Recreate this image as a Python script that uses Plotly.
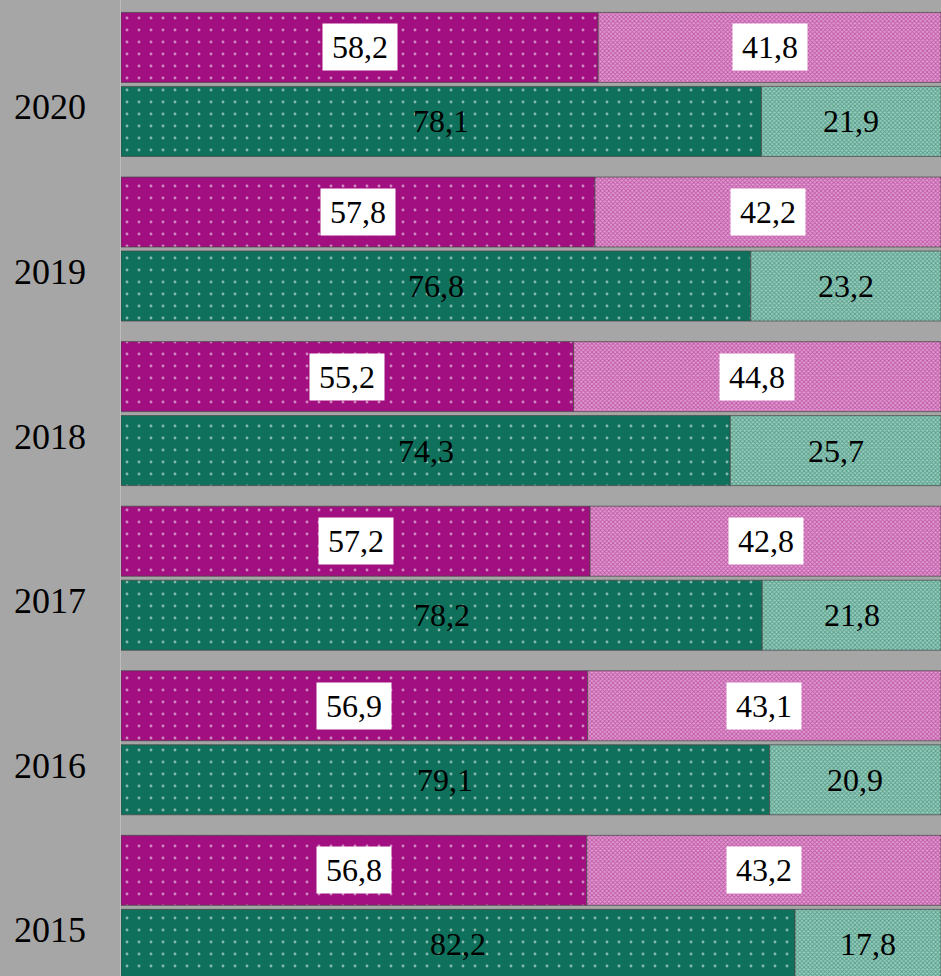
import plotly.graph_objects as go

years = ["2015", "2016", "2017", "2018", "2019", "2020"]
pink_left = [56.8, 56.9, 57.2, 55.2, 57.8, 58.2]
pink_right = [43.2, 43.1, 42.8, 44.8, 42.2, 41.8]
green_left = [82.2, 79.1, 78.2, 74.3, 76.8, 78.1]
green_right = [17.8, 20.9, 21.8, 25.7, 23.2, 21.9]

def fmt(v):
    return f"{v:.1f}".replace(".", ",")

MAG = "#A20F80"
GRN = "#0F705B"
BG = "#A6A6A6"
FONT = "Liberation Serif, Times New Roman, serif"
edge = dict(color="rgba(70,70,70,0.7)", width=1)

fig = go.Figure()
# green bars (lower bar in each year)
fig.add_trace(go.Bar(y=years, x=green_left, orientation="h", offsetgroup="g",
                     marker=dict(color=GRN, line=edge,
                                 pattern=dict(shape=".", fgcolor="white", size=12, solidity=0.045)),
                     hoverinfo="skip"))
fig.add_trace(go.Bar(y=years, x=green_right, base=green_left, orientation="h", offsetgroup="g",
                     marker=dict(color="#9CCDBD", line=edge,
                                 pattern=dict(shape="x", fgcolor=GRN, size=3, solidity=0.5)),
                     hoverinfo="skip"))
# magenta bars (upper bar in each year)
fig.add_trace(go.Bar(y=years, x=pink_left, orientation="h", offsetgroup="p",
                     marker=dict(color=MAG, line=edge,
                                 pattern=dict(shape=".", fgcolor="white", size=12, solidity=0.045)),
                     hoverinfo="skip"))
fig.add_trace(go.Bar(y=years, x=pink_right, base=pink_left, orientation="h", offsetgroup="p",
                     marker=dict(color="#E09ED0", line=edge,
                                 pattern=dict(shape="x", fgcolor=MAG, size=3, solidity=0.5)),
                     hoverinfo="skip"))

ann = []
for i, yr in enumerate(years):
    # magenta labels with white boxes
    ann.append(dict(x=pink_left[i] / 2, y=i, yshift=37, text=fmt(pink_left[i]), showarrow=False,
                    bgcolor="white", width=72, height=44, font=dict(family=FONT, size=32, color="black")))
    ann.append(dict(x=pink_left[i] + pink_right[i] / 2, y=i, yshift=37, text=fmt(pink_right[i]),
                    showarrow=False, bgcolor="white", width=72, height=44,
                    font=dict(family=FONT, size=32, color="black")))
    # green labels without boxes
    ann.append(dict(x=green_left[i] / 2, y=i, yshift=-37, text=fmt(green_left[i]), showarrow=False,
                    font=dict(family=FONT, size=32, color="black")))
    ann.append(dict(x=green_left[i] + green_right[i] / 2, y=i, yshift=-37, text=fmt(green_right[i]),
                    showarrow=False, font=dict(family=FONT, size=32, color="black")))
    # year labels
    ann.append(dict(xref="paper", x=0, xanchor="right", xshift=-33, y=i, yshift=-23, text=yr,
                    showarrow=False, font=dict(family=FONT, size=36, color="black")))

fig.update_layout(
    width=941, height=976,
    margin=dict(l=121, r=0, t=0, b=0),
    paper_bgcolor=BG, plot_bgcolor=BG,
    barmode="group", bargap=0.1008, bargroupgap=0.054,
    showlegend=False,
    annotations=ann,
    xaxis=dict(range=[0, 100], visible=False, fixedrange=True),
    yaxis=dict(type="category", categoryorder="array", categoryarray=years,
               range=[-0.417, 5.513], showticklabels=False, showgrid=False,
               showline=True, linecolor="#BDBDBD", linewidth=1, zeroline=False, fixedrange=True),
)

fig.write_html("out.html", config={"displayModeBar": False})
